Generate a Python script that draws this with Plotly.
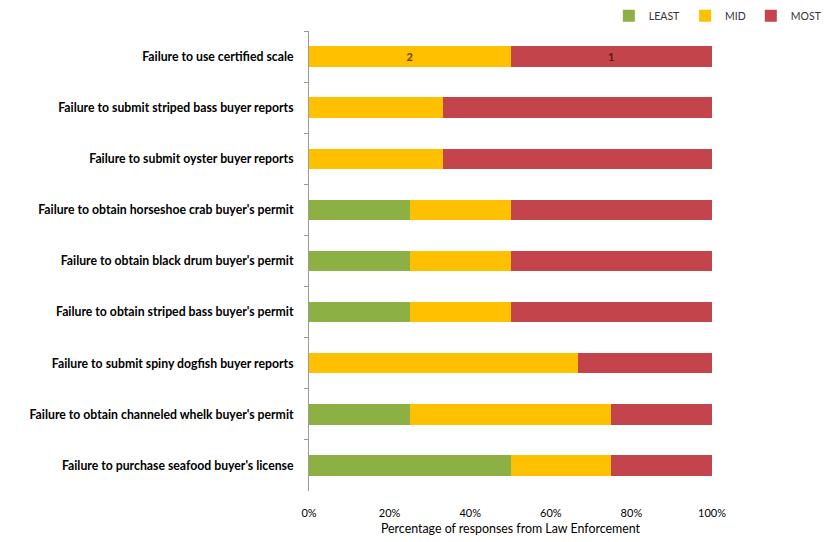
import plotly.graph_objects as go

categories = [
    "Failure to use certified scale",
    "Failure to submit striped bass buyer reports",
    "Failure to submit oyster buyer reports",
    "Failure to obtain horseshoe crab buyer's permit",
    "Failure to obtain black drum buyer's permit",
    "Failure to obtain striped bass buyer's permit",
    "Failure to submit spiny dogfish buyer reports",
    "Failure to obtain channeled whelk buyer's permit",
    "Failure to purchase seafood buyer's license",
]
least = [0, 0, 0, 25, 25, 25, 0, 25, 50]
mid = [50, 33.3, 33.3, 25, 25, 25, 66.7, 50, 25]
most = [50, 66.7, 66.7, 50, 50, 50, 33.3, 25, 25]
mid_labels = ["2", "", "", "", "", "", "", "", ""]
most_labels = ["1", "", "", "", "", "", "", "", ""]
x_ticks = [0, 20, 40, 60, 80, 100]
x_tick_text = ["0%", "20%", "40%", "60%", "80%", "100%"]

font_family = "Lato, Arial"

fig = go.Figure()
fig.add_trace(go.Bar(y=categories, x=least, name="LEAST", orientation="h",
                     marker=dict(color="#8CB043", line=dict(width=0)), width=0.4))
fig.add_trace(go.Bar(y=categories, x=mid, name="MID", orientation="h",
                     marker=dict(color="#FFC000", line=dict(width=0)), width=0.4,
                     text=mid_labels, textposition="inside", insidetextanchor="middle",
                     textfont=dict(color="#6a3f00", size=11, family=font_family, weight="bold")))
fig.add_trace(go.Bar(y=categories, x=most, name="MOST", orientation="h",
                     marker=dict(color="#C3454B", line=dict(width=0)), width=0.4,
                     text=most_labels, textposition="inside", insidetextanchor="middle",
                     textfont=dict(color="#5a1515", size=11, family=font_family, weight="bold")))

fig.update_layout(
    barmode="stack",
    width=833, height=542,
    margin=dict(l=301, r=129, t=23, b=59, autoexpand=False),
    paper_bgcolor="white", plot_bgcolor="white",
    font=dict(family=font_family, color="#000000"),
    showlegend=True,
    legend=dict(orientation="h", x=1.285, xanchor="right", y=1.033, yanchor="middle",
                font=dict(size=10.5, family=font_family, color="#333"),
                itemwidth=30, traceorder="normal", tracegroupgap=0),
    uniformtext=dict(mode="hide", minsize=8),
)
fig.update_yaxes(
    categoryorder="array", categoryarray=categories, autorange="reversed",
    showline=True, linecolor="#9a9a9a", linewidth=1,
    ticks="outside", tickson="boundaries", ticklen=4, tickcolor="#9a9a9a",
    tickfont=dict(size=12.25, family=font_family, color="#000", weight="bold"),
    showgrid=False, ticklabelstandoff=12,
)
fig.update_xaxes(
    range=[0, 100], tickvals=x_ticks, ticktext=x_tick_text,
    showline=False, showgrid=False, zeroline=False,
    ticks="outside", ticklen=12, tickcolor="rgba(0,0,0,0)",
    tickfont=dict(size=11, family=font_family, color="#000"),
    title=dict(text="Percentage of responses from Law Enforcement",
               font=dict(size=12.4, family=font_family, color="#000"), standoff=6),
)
fig.write_html("out.html")
